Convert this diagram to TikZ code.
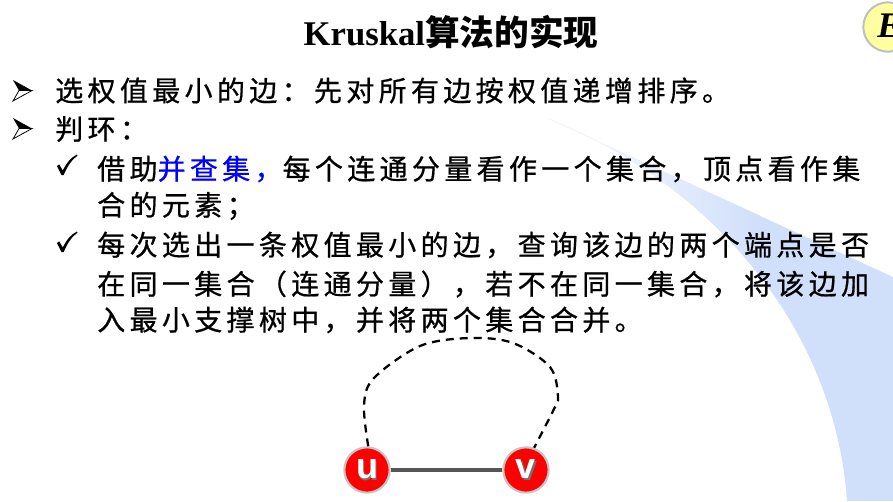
\documentclass[tikz,border=0pt]{standalone}
\usepackage{fontspec}
\setmainfont{Liberation Serif}
\newfontfamily\cjk[LetterSpace=15.5, FakeBold=0.7]{Noto Sans CJK SC}
\newfontfamily\cjkt{Noto Sans CJK SC}
\newfontfamily\arialb{Liberation Sans}
\definecolor{wedge}{RGB}{208,223,250}
\definecolor{badgefill}{RGB}{255,255,160}
\definecolor{edgegray}{RGB}{85,85,85}
\tikzset{
  txt/.style={anchor=west, inner sep=0pt, font=\cjk\fontsize{21}{21}\selectfont},
  vtx/.style={circle, fill=red, draw=gray!45, line width=1.6pt, minimum size=34pt, inner sep=0pt,
              text=white, font=\arialb\bfseries\fontsize{27}{27}\selectfont},
  dashcurve/.style={line width=1.7pt, dash pattern=on 6pt off 4.5pt},
  uvedge/.style={line width=2.4pt, edgegray}
}
\newcommand\shadowed[1]{\makebox[0pt][l]{\hspace{1pt}\raisebox{-1pt}{\textcolor{black!55}{#1}}}#1}
\newcommand\arrowbullet[2]{%
  \begin{scope}[shift={(#1,#2)}]
    \fill[black] (-9,-10.5) -- (10,0) -- (-3,0) -- cycle;
    \draw[black, line width=0.6pt, fill=white] (-3,0) -- (10,0) -- (-9,10.5) -- cycle;
  \end{scope}}
\newcommand\checkbullet[2]{%
  \begin{scope}[shift={(#1,#2)}]
    \fill[black] (-9,1) -- (-6.8,-0.6) -- (-3.2,5.5) .. controls (1,-3) and (5,-7.5) .. (11,-10.5)
      -- (11.5,-9.4) .. controls (6,-5.5) and (1.5,1) .. (-2.3,10) -- (-4.6,10) -- cycle;
  \end{scope}}
\begin{document}
\begin{tikzpicture}[x=0.75pt,y=-0.75pt]
\useasboundingbox (0,0) rectangle (893,501);
\fill[white] (0,0) rectangle (893,501);
% background wedge
\begin{scope}
  \clip (547,118) .. controls (715,185) and (835,330) .. (847,501) -- (893,501) -- (893,277) -- cycle;
  \fill[wedge] (540,110) rectangle (893,501);
  \shade[left color=white, right color=wedge] (540,110) rectangle (760,501);
\end{scope}
% corner badge
\node[circle, fill=badgefill, draw=gray!50, line width=1.5pt, minimum size=37pt, inner sep=0pt] (badge) at (888,27) {};
\node[anchor=west, inner sep=0pt, font=\bfseries\itshape\fontsize{27}{27}\selectfont] (badgeletter) at (877,26) {E};
% title
\node[inner sep=0pt, font=\bfseries\fontsize{26}{26}\selectfont] (title) at (451,32)
  {Kruskal{\cjkt\bfseries 算法的实现}};
% bullets
\arrowbullet{22}{90.5}
\arrowbullet{22}{128.5}
\checkbullet{66}{165}
\checkbullet{66}{242}
% text lines
\node[txt] (l1) at (55,90.5) {选权值最小的边：先对所有边按权值递增排序。};
\node[txt] (l2) at (55,129) {判环：};
\node[txt] (l3) at (97,169) {借助\textcolor{blue}{并查集，}每个连通分量看作一个集合，顶点看作集};
\node[txt] (l4) at (97,206) {合的元素；};
\node[txt] (l5) at (97,245) {每次选出一条权值最小的边，查询该边的两个端点是否};
\node[txt] (l6) at (97,284) {在同一集合（连通分量），若不在同一集合，将该边加};
\node[txt] (l7) at (97,320) {入最小支撑树中，并将两个集合合并。};
% graph
\node[vtx] (u) at (367,470) {\shadowed{u}};
\node[vtx] (v) at (526,470) {\shadowed{v}};
\draw[uvedge] (u) -- (v);
\draw[dashcurve] plot[smooth, tension=0.55] coordinates
  {(u.87) (364,405) (374,378) (420,346) (470,338) (513,343) (550,367) (558,397) (553,411) (v.70)};
\end{tikzpicture}
\end{document}
